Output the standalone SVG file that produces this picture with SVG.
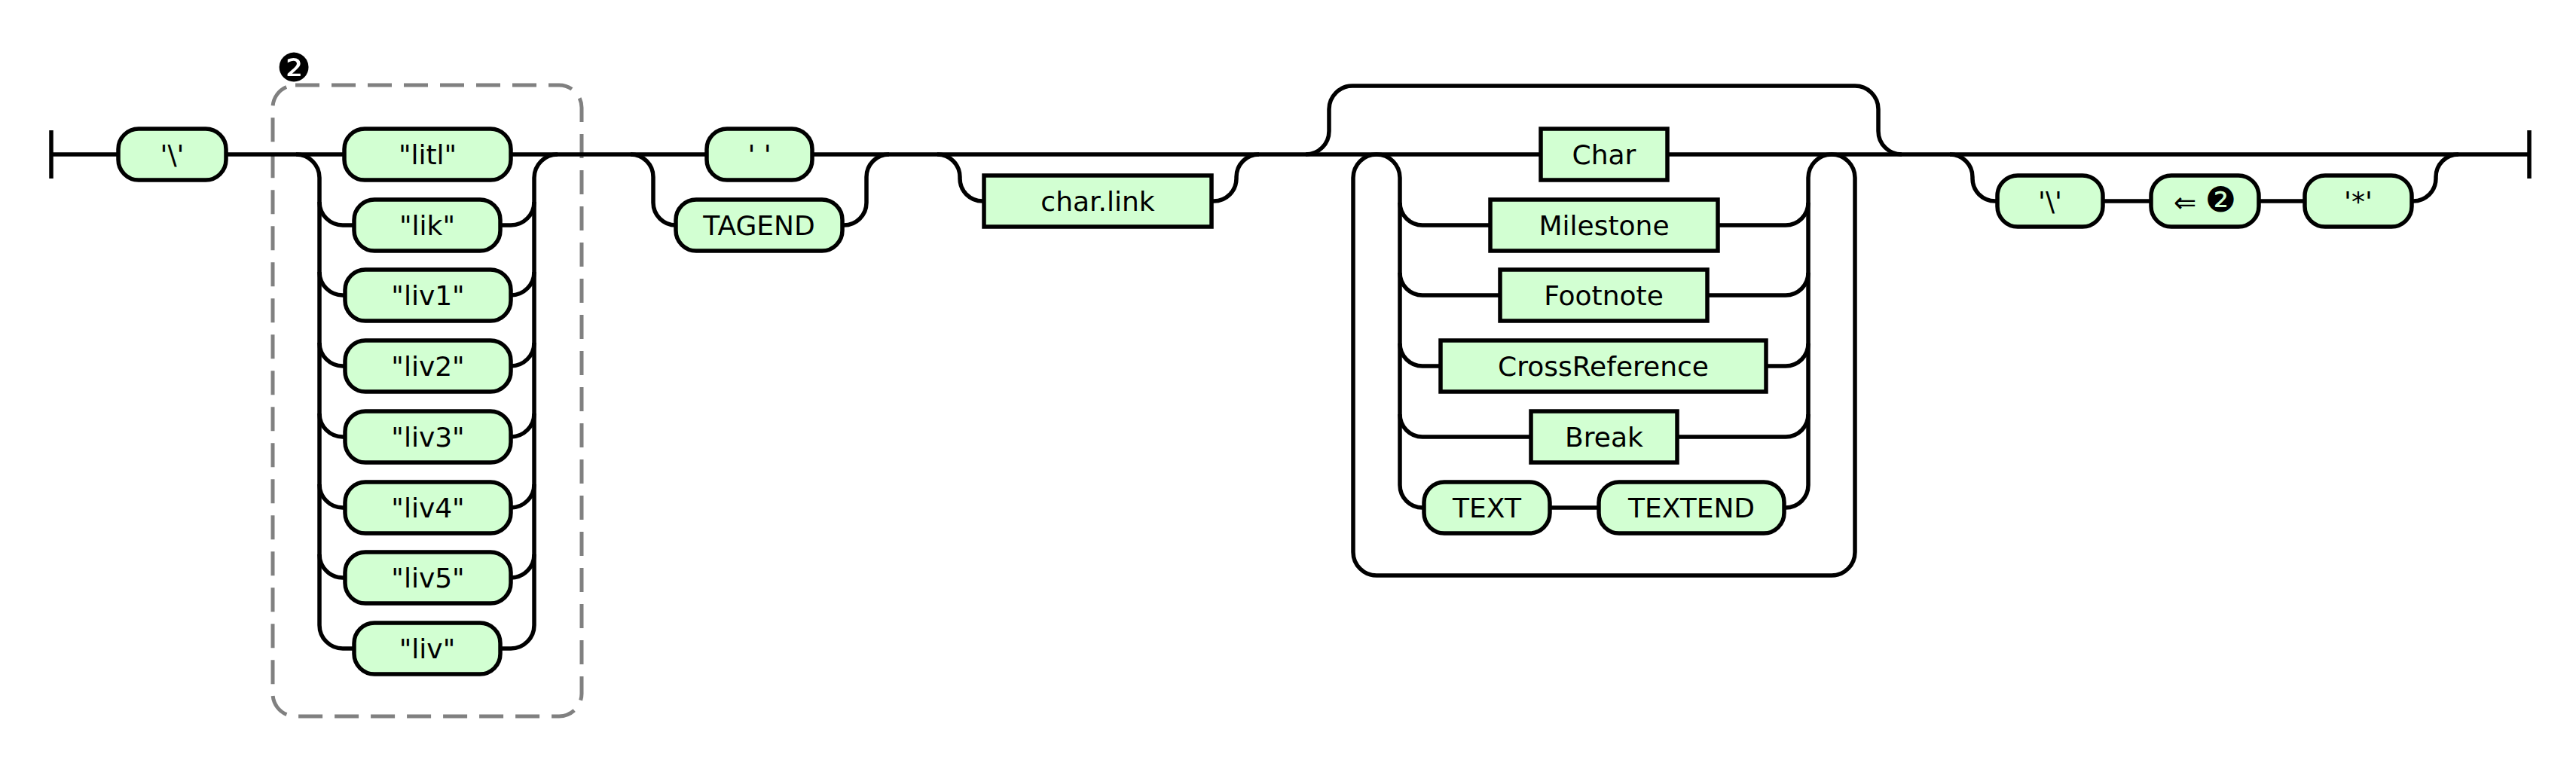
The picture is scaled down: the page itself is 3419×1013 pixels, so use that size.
<svg xmlns="http://www.w3.org/2000/svg" width="3419" height="1013" viewBox="0 0 3419 1013">
<style>
  .t rect{fill:#d2ffd2;stroke:#000;stroke-width:5.5}
  .n rect{fill:#d2ffd2;stroke:#000;stroke-width:5.5}
  text{font-family:"DejaVu Sans","Liberation Sans",sans-serif;font-size:36px;text-anchor:middle;fill:#000}
  #connectors path{fill:none;stroke:#000;stroke-width:5.5}
  .grp{fill:none;stroke:#808080;stroke-width:5;stroke-dasharray:32 16}
  .lbl{font-size:52px}
  .big{font-size:46px}
</style>
<rect width="3419" height="1013" fill="#fff"/>
<g id="group2">
  <rect class="grp" x="362" y="113" width="410" height="838" rx="30"/>
  <text class="lbl" x="390" y="108">❷</text>
</g>
<g id="connectors">
  <path d="M68 173V237"/>
  <path d="M68 205H157"/>
  <path d="M300 205H457"/>
  <path d="M393 205A31 31 0 0 1 424 236V830A31 31 0 0 0 455 861H470"/>
  <path d="M424 268A31 31 0 0 0 455 299H470"/>
  <path d="M424 361A31 31 0 0 0 455 392H458"/>
  <path d="M424 455A31 31 0 0 0 455 486H458"/>
  <path d="M424 549A31 31 0 0 0 455 580H458"/>
  <path d="M424 643A31 31 0 0 0 455 674H458"/>
  <path d="M424 736A31 31 0 0 0 455 767H458"/>
  <path d="M664 861H678A31 31 0 0 0 709 830V236A31 31 0 0 1 740 205"/>
  <path d="M664 299H678A31 31 0 0 0 709 268"/>
  <path d="M678 392A31 31 0 0 0 709 361"/>
  <path d="M678 486A31 31 0 0 0 709 455"/>
  <path d="M678 580A31 31 0 0 0 709 549"/>
  <path d="M678 674A31 31 0 0 0 709 643"/>
  <path d="M678 767A31 31 0 0 0 709 736"/>
  <path d="M678 205H938"/>
  <path d="M837 205A30 30 0 0 1 867 235V269A30 30 0 0 0 897 299"/>
  <path d="M1118 299H1120A30 30 0 0 0 1150 269V235A30 30 0 0 1 1180 205"/>
  <path d="M1078 205H2045"/>
  <path d="M1244 205A30 30 0 0 1 1274 235V237A30 30 0 0 0 1304 267H1306"/>
  <path d="M1608 267H1611A30 30 0 0 0 1641 237V235A30 30 0 0 1 1671 205"/>
  <path d="M1733 205A31 31 0 0 0 1764 174V145A31 31 0 0 1 1795 114H2462A31 31 0 0 1 2493 145V174A31 31 0 0 0 2524 205"/>
  <path d="M1827 205A31 31 0 0 0 1796 236V733A31 31 0 0 0 1827 764H2431A31 31 0 0 0 2462 733V236A31 31 0 0 0 2431 205"/>
  <path d="M1827 205A31 31 0 0 1 1858 236V644A30 30 0 0 0 1888 674H1890"/>
  <path d="M1858 269A30 30 0 0 0 1888 299H1978"/>
  <path d="M1858 362A30 30 0 0 0 1888 392H1991"/>
  <path d="M1858 456A30 30 0 0 0 1888 486H1912"/>
  <path d="M1858 550A30 30 0 0 0 1888 580H2032"/>
  <path d="M2368 674H2370A30 30 0 0 0 2400 644V236A31 31 0 0 1 2431 205"/>
  <path d="M2280 299H2370A30 30 0 0 0 2400 269"/>
  <path d="M2266 392H2370A30 30 0 0 0 2400 362"/>
  <path d="M2344 486H2370A30 30 0 0 0 2400 456"/>
  <path d="M2226 580H2370A30 30 0 0 0 2400 550"/>
  <path d="M2057 674H2122"/>
  <path d="M2213 205H3357"/>
  <path d="M2588 205A30 30 0 0 1 2618 235V237A30 30 0 0 0 2648 267H2651"/>
  <path d="M2791 267H2855"/>
  <path d="M2998 267H3059"/>
  <path d="M3201 267H3203A30 30 0 0 0 3233 237V235A30 30 0 0 1 3263 205"/>
  <path d="M3357 173V237"/>
</g>
<g id="n-bs1" class="t"><rect x="157" y="171" width="143" height="68" rx="27"/><text x="228.5" y="218">'\'</text></g>
<g id="n-litl" class="t"><rect x="457" y="171" width="221" height="68" rx="27"/><text x="567.5" y="218">"litl"</text></g>
<g id="n-lik" class="t"><rect x="470" y="265" width="194" height="68" rx="27"/><text x="567" y="312">"lik"</text></g>
<g id="n-liv1" class="t"><rect x="458" y="358" width="220" height="68" rx="27"/><text x="568" y="405">"liv1"</text></g>
<g id="n-liv2" class="t"><rect x="458" y="452" width="220" height="68" rx="27"/><text x="568" y="499">"liv2"</text></g>
<g id="n-liv3" class="t"><rect x="458" y="546" width="220" height="68" rx="27"/><text x="568" y="593">"liv3"</text></g>
<g id="n-liv4" class="t"><rect x="458" y="640" width="220" height="68" rx="27"/><text x="568" y="687">"liv4"</text></g>
<g id="n-liv5" class="t"><rect x="458" y="733" width="220" height="68" rx="27"/><text x="568" y="780">"liv5"</text></g>
<g id="n-liv" class="t"><rect x="470" y="827" width="194" height="68" rx="27"/><text x="567" y="874">"liv"</text></g>
<g id="n-space" class="t"><rect x="938" y="171" width="140" height="68" rx="27"/><text x="1008" y="218">' '</text></g>
<g id="n-tagend" class="t"><rect x="897" y="265" width="221" height="68" rx="27"/><text x="1007.5" y="312">TAGEND</text></g>
<g id="n-charlink" class="n"><rect x="1306" y="233" width="302" height="68"/><text x="1457" y="280">char.link</text></g>
<g id="n-char" class="n"><rect x="2045" y="171" width="168" height="68"/><text x="2129" y="218">Char</text></g>
<g id="n-milestone" class="n"><rect x="1978" y="265" width="302" height="68"/><text x="2129" y="312">Milestone</text></g>
<g id="n-footnote" class="n"><rect x="1991" y="358" width="275" height="68"/><text x="2128.5" y="405">Footnote</text></g>
<g id="n-crossref" class="n"><rect x="1912" y="452" width="432" height="68"/><text x="2128" y="499">CrossReference</text></g>
<g id="n-break" class="n"><rect x="2032" y="546" width="194" height="68"/><text x="2129" y="593">Break</text></g>
<g id="n-text" class="t"><rect x="1890" y="640" width="167" height="68" rx="27"/><text x="1973.5" y="687">TEXT</text></g>
<g id="n-textend" class="t"><rect x="2122" y="640" width="246" height="68" rx="27"/><text x="2245" y="687">TEXTEND</text></g>
<g id="n-bs2" class="t"><rect x="2651" y="233" width="140" height="68" rx="27"/><text x="2721" y="280">'\'</text></g>
<g id="n-ref2" class="t"><rect x="2855" y="233" width="143" height="68" rx="27"/><text x="2926.5" y="281">⇐ <tspan class="big">❷</tspan></text></g>
<g id="n-star" class="t"><rect x="3059" y="233" width="142" height="68" rx="27"/><text x="3130" y="280">'*'</text></g>
</svg>
